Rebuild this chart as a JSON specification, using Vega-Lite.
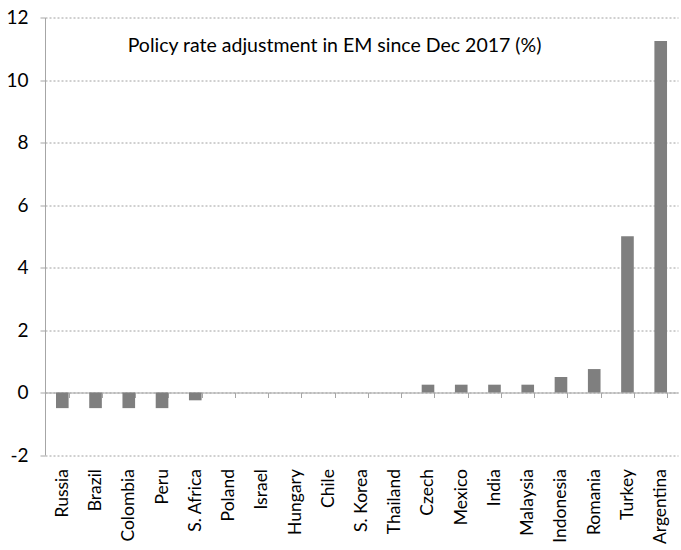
{
  "$schema": "https://vega.github.io/schema/vega-lite/v6.json",
  "width": 633,
  "height": 437.5,
  "autosize": {"type": "none"},
  "padding": {"left": 45, "top": 17.5, "right": 3, "bottom": 95},
  "background": "white",
  "title": {"text": "Policy rate adjustment in EM since Dec 2017 (%)", "anchor": "middle", "frame": "group", "dx": -27, "offset": -48, "fontSize": 19.5, "font": "Lato", "fontWeight": "normal", "color": "#000000"},
  "data": {"values": [
    {"country": "Russia", "value": -0.5},
    {"country": "Brazil", "value": -0.5},
    {"country": "Colombia", "value": -0.5},
    {"country": "Peru", "value": -0.5},
    {"country": "S. Africa", "value": -0.25},
    {"country": "Poland", "value": 0},
    {"country": "Israel", "value": 0},
    {"country": "Hungary", "value": 0},
    {"country": "Chile", "value": 0},
    {"country": "S. Korea", "value": 0},
    {"country": "Thailand", "value": 0},
    {"country": "Czech", "value": 0.25},
    {"country": "Mexico", "value": 0.25},
    {"country": "India", "value": 0.25},
    {"country": "Malaysia", "value": 0.25},
    {"country": "Indonesia", "value": 0.5},
    {"country": "Romania", "value": 0.75},
    {"country": "Turkey", "value": 5},
    {"country": "Argentina", "value": 11.25}
  ]},
  "mark": {"type": "bar", "color": "#7f7f7f"},
  "encoding": {
    "x": {
      "field": "country", "type": "nominal", "sort": null,
      "scale": {"paddingInner": 0.62, "paddingOuter": 0.33},
      "axis": {
        "title": null, "orient": "bottom", "offset": -62.5,
        "domain": true, "domainColor": "#a6a6a6", "domainWidth": 1,
        "ticks": true, "tickBand": "extent", "tickColor": "#a6a6a6", "tickSize": 5,
        "labelAngle": -90, "labelAlign": "right", "labelBaseline": "middle",
        "labelPadding": 71, "labelFont": "Lato", "labelFontSize": 17.5, "labelColor": "#000000",
        "grid": false
      }
    },
    "y": {
      "field": "value", "type": "quantitative",
      "scale": {"domain": [-2, 12], "nice": false, "zero": false},
      "axis": {
        "title": null, "values": [-2, 0, 2, 4, 6, 8, 10, 12],
        "labelExpr": "replace(datum.label, '−', '-')",
        "domain": true, "domainColor": "#a6a6a6",
        "ticks": true, "tickColor": "#a6a6a6", "tickSize": 5,
        "labelFont": "Lato", "labelFontSize": 19, "labelColor": "#000000", "labelPadding": 12,
        "grid": true, "gridColor": "#a0a0a0", "gridDash": [2, 2], "gridWidth": 1
      }
    }
  },
  "config": {"view": {"stroke": null}}
}
